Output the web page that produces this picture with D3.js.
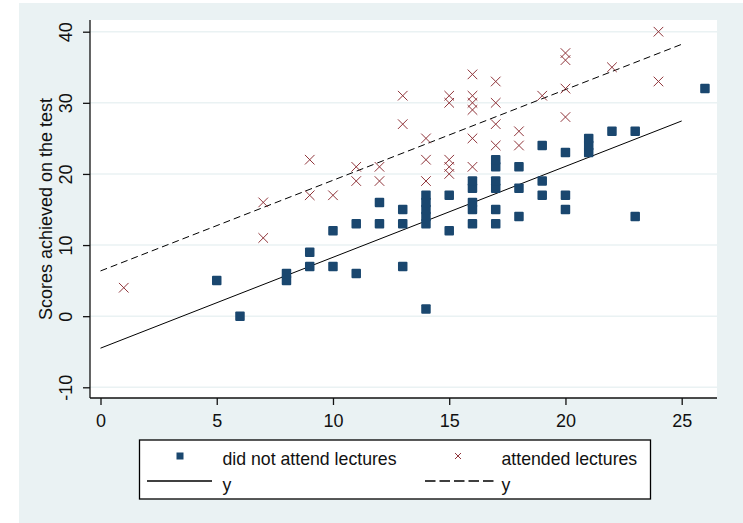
<!DOCTYPE html>
<html>
<head>
<meta charset="utf-8">
<script src="https://cdn.jsdelivr.net/npm/d3@7"></script>
<style>
  body { margin: 0; background: #fff; }
  svg { display: block; font-family: Arial, "Liberation Sans", sans-serif; }
</style>
</head>
<body>
<svg id="chart" width="743" height="523"></svg>
<script>
// lecture hours vs test scores, one list of scores per x value
var notAttendX = [5, 6, 8, 8, 9, 9, 10, 10, 11, 11, 12, 12, 13, 13, 13,
    14, 14, 14, 14, 14, 14, 15, 15, 16, 16, 16, 16, 16,
    17, 17, 17, 17, 17, 17, 18, 18, 18, 19, 19, 19, 20, 20, 20,
    21, 21, 21, 22, 23, 23, 26];
var notAttendY = [5, 0, 5, 6, 7, 9, 7, 12, 6, 13, 13, 16, 7, 13, 15,
    1, 13, 14, 15, 16, 17, 12, 17, 13, 15, 16, 18, 19,
    13, 15, 18, 19, 21, 22, 14, 18, 21, 17, 19, 24, 15, 17, 23,
    23, 24, 25, 26, 14, 26, 32];

var attendX = [1, 7, 7, 9, 9, 10, 11, 11, 12, 12, 13, 13, 14, 14, 14,
    15, 15, 15, 15, 15, 16, 16, 16, 16, 16, 16, 17, 17, 17, 17,
    18, 18, 19, 20, 20, 20, 20, 22, 24, 24];
var attendY = [4, 11, 16, 17, 22, 17, 19, 21, 19, 21, 27, 31, 19, 22, 25,
    20, 21, 22, 30, 31, 21, 25, 29, 30, 31, 34, 24, 27, 30, 33,
    24, 26, 31, 28, 32, 36, 37, 35, 33, 40];

// fitted lines (end points at x = 0 and x = 25)
var fitX = [0, 25];
var fitNotAttend = [-4.5, 27.45];
var fitAttend = [6.36, 38.23];

var xTicks = [0, 5, 10, 15, 20, 25];
var yTicks = [-10, 0, 10, 20, 30, 40];

var legendLabels = ["did not attend lectures", "attended lectures", "y", "y"];

var svg = d3.select("#chart");
var bg = "#eaf2f3",
    navy = "#1a476f",
    maroon = "#90353b";

var plot = {left: 90, right: 717, top: 20, bottom: 398};

svg.append("rect")
    .attr("x", 19).attr("y", 3)
    .attr("width", 743 - 19).attr("height", 523 - 3)
    .attr("fill", bg);

svg.append("rect")
    .attr("x", plot.left).attr("y", plot.top)
    .attr("width", plot.right - plot.left)
    .attr("height", plot.bottom - plot.top)
    .attr("fill", "#fff");

var x = d3.scaleLinear().domain([0, 25]).range([100.5, 681.7]),
    y = d3.scaleLinear().domain([-10, 40]).range([387.3, 31.7]);

// grid lines
svg.append("g")
    .selectAll("line")
    .data(yTicks)
    .enter()
    .append("line")
    .attr("x1", plot.left).attr("x2", plot.right)
    .attr("y1", function (d) { return y(d); })
    .attr("y2", function (d) { return y(d); })
    .attr("stroke", bg)
    .attr("stroke-width", 1.6);

// axes (plain hyphen for negatives, like the original)
var gx = svg.append("g")
    .attr("transform", "translate(0," + plot.bottom + ")")
    .call(d3.axisBottom(x).tickValues(xTicks).tickFormat(String).tickSize(7).tickSizeOuter(0));
gx.select(".domain")
    .attr("d", "M" + plot.left + ",0H" + plot.right);
gx.selectAll("text")
    .attr("y", 29)
    .attr("dy", 0)
    .attr("font-size", "18px")
    .attr("font-family", "Arial, 'Liberation Sans', sans-serif")
    .attr("fill", "#111");

var gy = svg.append("g")
    .attr("transform", "translate(" + plot.left + ",0)")
    .call(d3.axisLeft(y).tickValues(yTicks).tickFormat(String).tickSize(7).tickSizeOuter(0));
gy.select(".domain")
    .attr("d", "M0," + plot.top + "V" + plot.bottom);
gy.selectAll("text")
    .attr("x", 0)
    .attr("y", -18)
    .attr("dy", 0)
    .attr("transform", "rotate(-90)")
    .attr("text-anchor", "middle")
    .attr("font-size", "18px")
    .attr("font-family", "Arial, 'Liberation Sans', sans-serif")
    .attr("fill", "#111");

svg.selectAll(".domain, .tick line")
    .attr("stroke", "#111")
    .attr("stroke-width", 1.3);

// y-axis title
svg.append("text")
    .attr("transform", "translate(52," + ((plot.top + plot.bottom) / 2) + ") rotate(-90)")
    .attr("text-anchor", "middle")
    .attr("font-size", "18px")
    .attr("fill", "#111")
    .text("Scores achieved on the test");

// fitted lines
var fitLine = d3.line()
    .x(function (d) { return x(d[0]); })
    .y(function (d) { return y(d[1]); });

svg.append("path")
    .datum(d3.zip(fitX, fitNotAttend))
    .attr("d", fitLine)
    .attr("fill", "none")
    .attr("stroke", "#000")
    .attr("stroke-width", 1);

svg.append("path")
    .datum(d3.zip(fitX, fitAttend))
    .attr("d", fitLine)
    .attr("fill", "none")
    .attr("stroke", "#000")
    .attr("stroke-width", 1)
    .attr("stroke-dasharray", "7,4");

// squares
var sq = 9.5;
svg.append("g")
    .selectAll("rect")
    .data(d3.zip(notAttendX, notAttendY))
    .enter()
    .append("rect")
    .attr("x", function (d) { return x(d[0]) - sq / 2; })
    .attr("y", function (d) { return y(d[1]) - sq / 2; })
    .attr("width", sq).attr("height", sq)
    .attr("rx", 1)
    .attr("fill", navy);

// crosses
var cr = 4.8;
svg.append("g")
    .selectAll("path")
    .data(d3.zip(attendX, attendY))
    .enter()
    .append("path")
    .attr("d", function (d) {
        var cx = x(d[0]), cy = y(d[1]);
        return "M" + (cx - cr) + "," + (cy - cr) + "L" + (cx + cr) + "," + (cy + cr) +
            "M" + (cx - cr) + "," + (cy + cr) + "L" + (cx + cr) + "," + (cy - cr);
    })
    .attr("fill", "none")
    .attr("stroke", maroon)
    .attr("stroke-width", 1);

// legend
var lg = svg.append("g");
lg.append("rect")
    .attr("x", 139.5).attr("y", 440)
    .attr("width", 511).attr("height", 59)
    .attr("fill", "#fff")
    .attr("stroke", "#000")
    .attr("stroke-width", 1.3);

lg.append("rect")
    .attr("x", 176.5).attr("y", 452.5)
    .attr("width", 7).attr("height", 7)
    .attr("fill", navy);

var lc = 3;
lg.append("path")
    .attr("d", "M" + (458 - lc) + "," + (456 - lc) + "L" + (458 + lc) + "," + (456 + lc) +
        "M" + (458 - lc) + "," + (456 + lc) + "L" + (458 + lc) + "," + (456 - lc))
    .attr("stroke", maroon)
    .attr("stroke-width", 1);

lg.append("line")
    .attr("x1", 147).attr("x2", 212)
    .attr("y1", 481).attr("y2", 481)
    .attr("stroke", "#000").attr("stroke-width", 1.3);

lg.append("line")
    .attr("x1", 425).attr("x2", 494)
    .attr("y1", 481).attr("y2", 481)
    .attr("stroke", "#000").attr("stroke-width", 1.3)
    .attr("stroke-dasharray", "10.5,4");

var legendPos = [[222.5, 465], [501.5, 465], [222.5, 491], [501.5, 491]];
lg.selectAll("text")
    .data(legendLabels)
    .enter()
    .append("text")
    .attr("x", function (d, i) { return legendPos[i][0]; })
    .attr("y", function (d, i) { return legendPos[i][1]; })
    .attr("font-size", "17.7px")
    .attr("fill", "#111")
    .text(function (d) { return d; });
</script>
</body>
</html>
